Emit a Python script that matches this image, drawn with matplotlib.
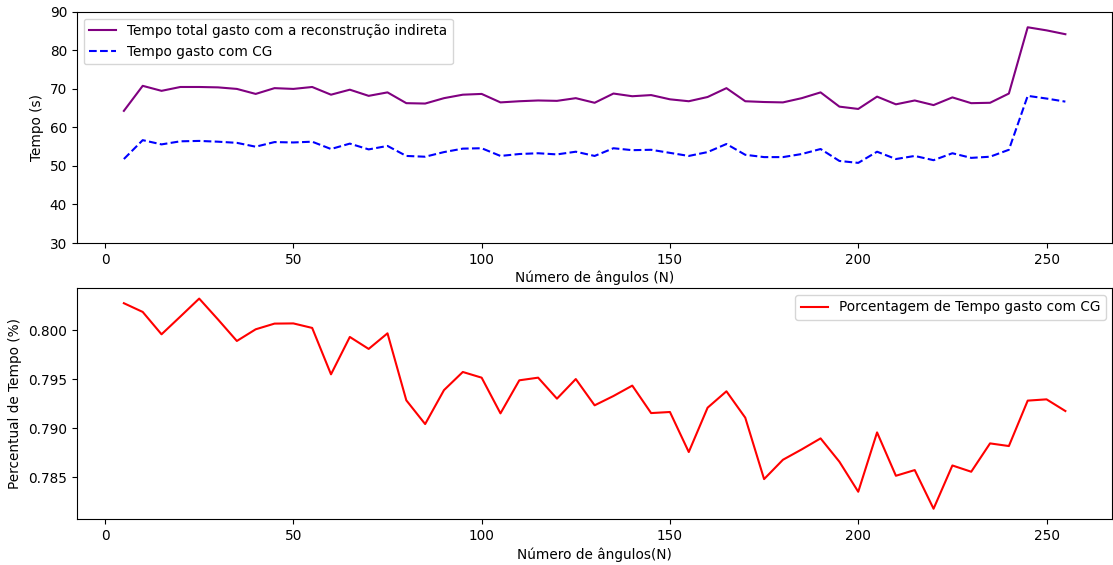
import matplotlib
matplotlib.use("Agg")
import matplotlib.pyplot as plt
import numpy as np

angles = list(range(5, 256, 5))

tempo_total = [64.3, 70.8, 69.5, 70.5, 70.5, 70.4, 70.0, 68.7, 70.2, 70.0,
               70.5, 68.5, 69.8, 68.2, 69.1, 66.3, 66.2, 67.6, 68.5, 68.7,
               66.5, 66.8, 67.0, 66.9, 67.6, 66.4, 68.8, 68.1, 68.4, 67.3,
               66.8, 67.9, 70.2, 66.8, 66.6, 66.5, 67.6, 69.1, 65.4, 64.8,
               68.0, 66.0, 67.0, 65.8, 67.8, 66.3, 66.4, 68.8, 86.0, 85.2, 84.2]

tempo_cg = [51.8, 56.7, 55.6, 56.4, 56.5, 56.3, 56.0, 55.0, 56.2, 56.1,
            56.3, 54.4, 55.8, 54.3, 55.2, 52.6, 52.4, 53.6, 54.5, 54.6,
            52.6, 53.1, 53.3, 53.0, 53.7, 52.6, 54.6, 54.1, 54.2, 53.4,
            52.6, 53.6, 55.7, 52.9, 52.3, 52.3, 53.1, 54.4, 51.3, 50.8,
            53.7, 51.8, 52.6, 51.5, 53.3, 52.1, 52.4, 54.2, 68.2, 67.5, 66.7]

percentual = [0.80276, 0.80187, 0.79959, 0.80140, 0.80323, 0.80110, 0.79891, 0.80010, 0.80068, 0.80070,
              0.80024, 0.79551, 0.79932, 0.79810, 0.79969, 0.79286, 0.79044, 0.79390, 0.79575, 0.79517,
              0.79153, 0.79490, 0.79517, 0.79303, 0.79503, 0.79235, 0.79330, 0.79436, 0.79156, 0.79167,
              0.78759, 0.79211, 0.79378, 0.79109, 0.78483, 0.78680, 0.78786, 0.78898, 0.78660, 0.78354,
              0.78959, 0.78517, 0.78575, 0.78181, 0.78622, 0.78558, 0.78847, 0.78820, 0.79283, 0.79296, 0.79177]

plt.rcParams['font.family'] = ['DejaVu Sans']
plt.rcParams['font.size'] = 9.8

fig, (ax1, ax2) = plt.subplots(2, 1, figsize=(11.13, 5.65), dpi=100)
fig.subplots_adjust(left=0.069, right=0.9995, top=0.979, bottom=0.081, hspace=0.195)

ax1.plot(angles, tempo_total, color='purple', lw=1.5, label='Tempo total gasto com a reconstrução indireta')
ax1.plot(angles, tempo_cg, color='blue', lw=1.5, ls='--', label='Tempo gasto com CG')
ax1.set_ylim(30, 90)
ax1.set_ylabel('Tempo (s)')
ax1.set_xlabel('Número de ângulos (N)', labelpad=3)
ax1.legend(loc='upper left')

ax2.plot(angles, percentual, color='red', lw=1.5, label='Porcentagem de Tempo gasto com CG')
ax2.set_ylabel('Percentual de Tempo (%)')
ax2.set_xlabel('Número de ângulos(N)', labelpad=3)
ax2.set_yticks([0.785, 0.790, 0.795, 0.800])
ax2.legend(loc='upper right')

fig.savefig('out.png', dpi=100)
